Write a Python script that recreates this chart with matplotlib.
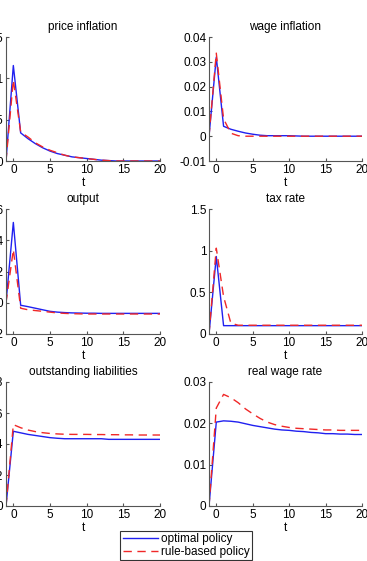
import matplotlib
matplotlib.use('Agg')
import matplotlib.pyplot as plt

plt.rcParams['font.family'] = ['Liberation Sans', 'DejaVu Sans']
plt.rcParams['font.size'] = 8.5

# horizon, starting one period before the shock
t = list(range(-1, 21))

titles = ['price inflation', 'wage inflation', 'output', 'tax rate',
          'outstanding liabilities', 'real wage rate']

price_opt = [0, 0.01155, 0.0034, 0.0027, 0.0021, 0.0016, 0.0012, 0.0009, 0.0007, 0.0005,
             0.0004, 0.0003, 0.0002, 0.0001, 0.00005, 0, 0, 0, 0, 0, 0, 0]
price_rule = [0, 0.0098, 0.0035, 0.0029, 0.0022, 0.0017, 0.0013, 0.001, 0.0007, 0.0005,
              0.0004, 0.0003, 0.0002, 0.0001, 0.00005, 0, 0, 0, 0, 0, 0, 0]

wage_opt = [0, 0.0319, 0.004, 0.0028, 0.002, 0.0013, 0.0008, 0.0004, 0.0002, 0.0002,
            0.0002, 0.0002, 0.0001, 0, 0, 0, 0, 0, 0, 0, 0, 0]
wage_rule = [0, 0.0335, 0.007, 0.0012, 0.0002, 0, 0, 0, 0, 0,
             0, 0, 0, 0, 0, 0, 0, 0, 0, 0, 0, 0]

output_opt = [0, 0.0514, -0.0016, -0.0025, -0.0035, -0.0045, -0.0055, -0.006, -0.0063, -0.0065,
              -0.0066, -0.0067, -0.0067, -0.0068, -0.0068, -0.0068, -0.0068, -0.0068, -0.0068,
              -0.0068, -0.0068, -0.0068]
output_rule = [0, 0.034, -0.0035, -0.0045, -0.005, -0.0055, -0.006, -0.0065, -0.0068, -0.007,
               -0.0071, -0.0072, -0.0072, -0.0072, -0.0072, -0.0072, -0.0072, -0.0072, -0.0072,
               -0.0072, -0.0072, -0.0072]

tax_opt = [0, 0.93] + [0.1] * 20
tax_rule = [0, 1.03, 0.45, 0.13] + [0.105] * 18

liab_opt = [0, 0.482, 0.472, 0.462, 0.455, 0.448, 0.441, 0.437, 0.434, 0.434, 0.434,
            0.434, 0.434, 0.434, 0.43, 0.43, 0.43, 0.43, 0.43, 0.43, 0.43, 0.43]
liab_rule = [0, 0.525, 0.505, 0.49, 0.48, 0.473, 0.468, 0.465, 0.463, 0.462, 0.462,
             0.462, 0.461, 0.461, 0.46, 0.46, 0.459, 0.459, 0.458, 0.458, 0.458, 0.458]

rwage_opt = [0, 0.0203, 0.0206, 0.0205, 0.0203, 0.0199, 0.0195, 0.0192, 0.0189, 0.0186,
             0.0184, 0.0183, 0.0181, 0.018, 0.0178, 0.0177, 0.0175, 0.0175, 0.0174,
             0.0174, 0.0173, 0.0173]
rwage_rule = [0, 0.0237, 0.027, 0.0262, 0.025, 0.0235, 0.0223, 0.0212, 0.0203, 0.0197,
              0.0193, 0.019, 0.0188, 0.0187, 0.0186, 0.0185, 0.0184, 0.0184, 0.0183,
              0.0183, 0.0183, 0.0183]

series = [(price_opt, price_rule), (wage_opt, wage_rule), (output_opt, output_rule),
          (tax_opt, tax_rule), (liab_opt, liab_rule), (rwage_opt, rwage_rule)]

ylims = [(0, 0.015), (-0.01, 0.04), (-0.02, 0.06), (0, 1.5), (0, 0.8), (0, 0.03)]
yticks = [[0, 0.005, 0.01, 0.015],
          [-0.01, 0, 0.01, 0.02, 0.03, 0.04],
          [-0.02, 0, 0.02, 0.04, 0.06],
          [0, 0.5, 1, 1.5],
          [0, 0.2, 0.4, 0.6, 0.8],
          [0, 0.01, 0.02, 0.03]]
ytick_labels = [['0', '0.005', '0.01', '0.015'],
                ['-0.01', '0', '0.01', '0.02', '0.03', '0.04'],
                ['-0.02', '0', '0.02', '0.04', '0.06'],
                ['0', '0.5', '1', '1.5'],
                ['0', '0.2', '0.4', '0.6', '0.8'],
                ['0', '0.01', '0.02', '0.03']]

W, H = 367, 561
fig = plt.figure(figsize=(W / 100, H / 100), dpi=100)

# axes boxes in pixels: (left, right) per column, (top, bottom) per row
col_x = [(6, 160), (209, 362)]
row_y = [(37, 161), (209, 334), (382, 506)]

lines = []
for i in range(6):
    r, c = divmod(i, 2)
    x0, x1 = col_x[c]
    y0, y1 = row_y[r]
    ax = fig.add_axes([x0 / W, 1 - y1 / H, (x1 - x0) / W, (y1 - y0) / H])
    opt, rule = series[i]
    l1, = ax.plot(t, opt, color='#2020f0', lw=1.0)
    l2, = ax.plot(t, rule, color='#f02828', lw=1.0, ls=(0, (6, 4)))
    lines = [l1, l2]
    ax.set_xlim(-1, 20)
    ax.set_xticks([0, 5, 10, 15, 20])
    ax.set_ylim(*ylims[i])
    ax.set_yticks(yticks[i])
    ax.set_yticklabels(ytick_labels[i])
    ax.set_title(titles[i], fontsize=8.5, pad=5)
    ax.set_xlabel('t', labelpad=1)
    for s in ['top', 'right']:
        ax.spines[s].set_visible(False)
    for s in ['left', 'bottom']:
        ax.spines[s].set_color('#555555')
    ax.tick_params(direction='in', length=2, color='#555555', pad=2)

leg = fig.legend(lines, ['optimal policy', 'rule-based policy'],
                 loc='lower center', bbox_to_anchor=(0.507, 0.001),
                 frameon=True, fancybox=False, edgecolor='black',
                 fontsize=8.5, handlelength=3.0, handletextpad=0.2,
                 borderpad=0.2, labelspacing=0.1, borderaxespad=0)
leg.get_frame().set_linewidth(0.8)

fig.savefig('out.png', dpi=100)
